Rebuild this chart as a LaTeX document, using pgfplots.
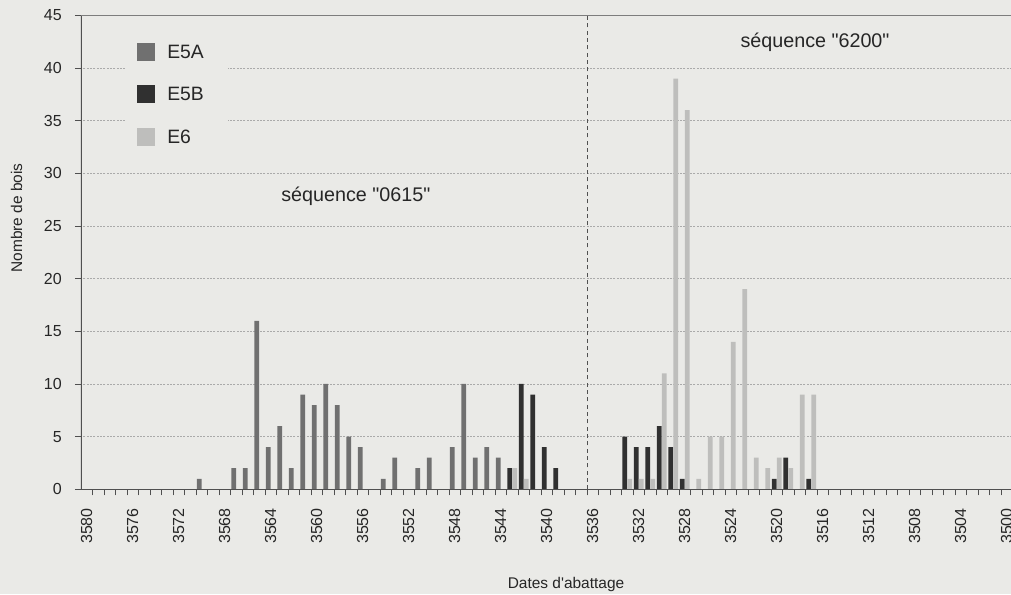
\documentclass[border=0pt]{standalone}
\usepackage{pgfplots}
\pgfplotsset{compat=1.18}
\usepackage{pgfplotstable}
\usepackage{fontspec}
\setmainfont{Liberation Sans}[Ligatures=TeXOff]

\definecolor{bgc}{RGB}{234,234,231}
\definecolor{cA}{RGB}{112,112,112}
\definecolor{cB}{RGB}{48,48,48}
\definecolor{cC}{RGB}{190,190,188}
\definecolor{gridc}{RGB}{170,170,170}
\definecolor{axc}{RGB}{80,80,80}
\definecolor{topc}{RGB}{125,125,125}

\pgfplotstableread{
year val
3570 1
3567 2
3566 2
3565 16
3564 4
3563 6
3562 2
3561 9
3560 8
3559 10
3558 8
3557 5
3556 4
3554 1
3553 3
3551 2
3550 3
3548 4
3547 10
3546 3
3545 4
3544 3
}\EfiveA

\pgfplotstableread{
year val
3543 2
3542 10
3541 9
3540 4
3539 2
3533 5
3532 4
3531 4
3530 6
3529 4
3528 1
3520 1
3519 3
3517 1
}\EfiveB

\pgfplotstableread{
year val
3543 2
3542 1
3533 1
3532 1
3531 1
3530 11
3529 39
3528 36
3527 1
3526 5
3525 5
3524 14
3523 19
3522 3
3521 2
3520 3
3519 2
3518 9
3517 9
}\Esix

\begin{document}
\begin{tikzpicture}
\path[fill=bgc, use as bounding box] (-60.75pt,-78.525pt) rectangle (697.5pt,366.975pt);
\begin{axis}[
  scale only axis,
  width=698.25pt, height=355.5pt,
  x dir=reverse,
  xmin=3499.543, xmax=3580.5,
  ymin=0, ymax=45,
  axis line style={draw=none},
  tick pos=left,
  tick align=outside,
  xtick={3500,3504,...,3580},
  minor xtick={3500.5,3501.5,...,3579.5},
  ytick={0,5,...,45},
  major x tick style={draw=none},
  minor x tick style={axc, line width=0.6pt},
  major y tick style={axc, line width=0.6pt},
  major tick length=4.5pt,
  minor tick length=4.5pt,
  ymajorgrids,
  major grid style={gridc, line width=0.45pt, dash pattern=on 1.5pt off 1pt},
  /pgf/number format/assume math mode=true,
  /pgf/number format/1000 sep={},
  xticklabel style={rotate=90, anchor=east, inner sep=0pt, font=\fontsize{12}{14}\selectfont, text=black!85},
  yticklabel style={anchor=east, inner sep=0pt, font=\fontsize{12}{14}\selectfont, text=black!85},
  xticklabel shift=9.5pt,
  yticklabel shift=9.75pt,
  xlabel={Dates d'abattage},
  ylabel={Nombre de bois},
  xlabel style={at={(axis description cs:0.521,-0.2)}, anchor=center, font=\fontsize{11.6}{14}\selectfont, text=black!85},
  ylabel style={at={(axis description cs:-0.0691,0.5724)}, anchor=center, font=\fontsize{11.6}{14}\selectfont, text=black!85},
  legend style={at={(axis description cs:0.0602,0.943)}, anchor=north west, draw=none, fill=none, inner sep=0pt, row sep=18.35pt, column sep=0pt, font=\fontsize{14.5}{17}\selectfont, nodes={inner sep=0pt, text=black!85}},
  legend cell align=left,
  legend image code/.code={\fill[#1] (0pt,-6.05pt) rectangle (13.5pt,7.45pt); \path (22.5pt,0pt);},
]
\fill[bgc] (axis description cs:0.0473,0.699) rectangle (axis description cs:0.158,0.973);

\addplot[ybar, bar width=0.41, bar shift=0pt, fill=cA, draw=none] table[x expr=\thisrow{year}+0.213, y=val] {\EfiveA};
\addlegendentry{E5A}
\addplot[ybar, bar width=0.41, bar shift=0pt, fill=cB, draw=none] table[x expr=\thisrow{year}+0.213, y=val] {\EfiveB};
\addlegendentry{E5B}
\addplot[ybar, bar width=0.41, bar shift=0pt, fill=cC, draw=none] table[x expr=\thisrow{year}-0.217, y=val] {\Esix};
\addlegendentry{E6}

\addplot[axc, line width=0.6pt, dash pattern=on 3pt off 2.5pt, forget plot] coordinates {(3536.5,0) (3536.5,45)};

\draw[axc, line width=1.1pt] (rel axis cs:0,0) -- (rel axis cs:0,1);
\draw[topc, line width=1.4pt] (rel axis cs:0,1) -- (rel axis cs:1,1);
\draw[axc, line width=1pt] (rel axis cs:0,0) -- (rel axis cs:1,0);

\node[font=\fontsize{14.8}{17}\selectfont, text=black!85] at (axis cs:3556.6,27.85) {séquence "0615"};
\node[font=\fontsize{14.8}{17}\selectfont, text=black!85] at (axis cs:3516.67,42.42) {séquence "6200"};
\end{axis}
\end{tikzpicture}
\end{document}
